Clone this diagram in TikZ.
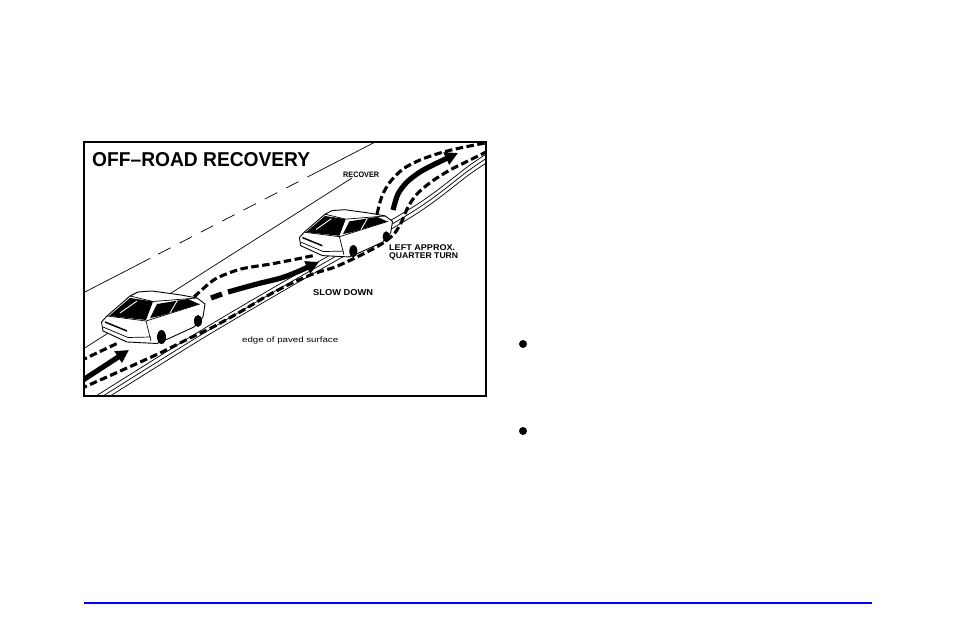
\documentclass[tikz,border=0pt]{standalone}
\usepackage{fontspec}
\usepackage{graphicx}
\setmainfont{Liberation Sans}
\usetikzlibrary{arrows.meta}
\definecolor{rulblue}{RGB}{0,0,255}
\newcommand\mycar{%
  \draw[carbody] (101.5,322) -- (103,331) -- (127,342) -- (157,343.5) -- (170,338) -- (194,327) -- (203,317) -- (205,304) -- (197,298) -- (181,295) -- (152,291) -- (138,292) -- (130,296) -- (107,316) -- cycle;
  \fill (109,316) -- (130,298) -- (153,301.5) -- (146,320) -- cycle;
  \draw[white, line width=0.9pt] (120,313) -- (137,301);
  \draw[carline] (130,296) -- (153,301.5) -- (197,298);
  \draw[carline] (107,316) -- (146,321) -- (200,304);
  \draw[carline] (146,321) -- (151,341);
  \draw[carline] (103,327) -- (128,337.5) -- (151,337);
  \draw[line width=1.5pt] (105,322) -- (127,331);
  \fill (150,318) -- (157,304) -- (188,299) -- (199,304) -- (190,307) -- (160,316) -- cycle;
  \draw[white, line width=0.9pt] (170,313) -- (177,301);
  \fill (161.5,337) ellipse [x radius=4.5pt, y radius=7pt];
  \fill (198,321) ellipse [x radius=4pt, y radius=6pt];
}
\begin{document}
\begin{tikzpicture}[x=1pt,y=-1pt,
  thinline/.style={line width=0.7pt},
  track/.style={line width=3.1pt, dash pattern=on 7.5pt off 3.5pt},
  bigarrow/.style={line width=5.2pt, -{Triangle[length=13pt,width=13pt]}},
  lbl/.style={inner sep=0pt, anchor=base west},
  carbody/.style={fill=white, draw=black, line width=0.9pt, line join=round},
  carline/.style={line width=0.7pt, line join=round},
]
\useasboundingbox (0,0) rectangle (954,636);
\fill[white] (0,0) rectangle (954,636);

\begin{scope}
  \clip (84,142) rectangle (486,396);
  % far lines
  \draw[thinline, dash pattern=on 79pt off 9pt on 14pt off 10pt on 14pt off 10pt on 14pt off 10pt on 14pt off 10pt on 14pt off 10pt on 14pt off 10pt on 14pt off 10pt on 140pt] (80,294.6) -- (380,139.5);
  \draw[thinline] (80,351) -- (352,178);
  % edge of paved surface
  \foreach \d in {0,4.5,9}
    \draw[thinline, shift={(0,\d)}] plot[smooth] coordinates {(80,406) (200,331) (290,278) (413,207) (470,165) (500,145)};
  % tracks
  \draw[track] (80,361) -- (118,343);
  \draw[bigarrow] (80,382) -- (129,350);
  \draw[track] plot[smooth] coordinates {(80,389) (127,368) (160,353) (190,338) (213,327) (240,312) (267,296) (290,284) (313,274) (335,267) (357,257) (380,245) (394,234) (402,221) (408,207) (417,194) (431,182) (450,170) (470,160) (492,149)};
  \draw[track] plot[smooth] coordinates {(194,297) (205,287) (217,278) (241,269) (271,264) (297,259) (316,255)};
  \draw[line width=5.2pt] (211,298) -- (222,294);
  \draw[bigarrow] plot[smooth] coordinates {(228,292) (257,284) (281,278) (297,272) (319,262)};
  \draw[track] plot[smooth] coordinates {(377,214) (382,196) (390,182) (403,169) (420,160) (440,153) (460,148) (490,142)};
  \draw[bigarrow] plot[smooth] coordinates {(393,210) (398,194) (407,182) (420,172) (435,164) (458,153)};
  % cars
  \begin{scope}
    \mycar
  \end{scope}
  \begin{scope}[shift={(208,-52.2)}, scale=0.9]
    \mycar
  \end{scope}
\end{scope}

\draw[line width=1.8pt] (84,142) rectangle (486,396);

\node[lbl] (title) at (92,167) {\resizebox{218pt}{14pt}{\bfseries OFF–ROAD RECOVERY}};
\node[lbl] (recover) at (343,178) {\resizebox{36pt}{5.5pt}{\bfseries RECOVER}};
\node[lbl] (leftturn) at (389,251) {\resizebox{66pt}{5.8pt}{\bfseries LEFT APPROX.}};
\node[lbl] (quarter) at (389,259) {\resizebox{69pt}{5.8pt}{\bfseries QUARTER TURN}};
\node[lbl] (slow) at (313,296) {\resizebox{60pt}{6pt}{\bfseries SLOW DOWN}};
\node[lbl] (edge) at (242,342.5) {\resizebox*{96pt}{7.3pt}{edge of paved surface}};

\fill (523,344) circle[radius=4pt];
\fill (523,431) circle[radius=4pt];

\draw[line width=2pt, rulblue] (84,603) -- (872,603);
\end{tikzpicture}
\end{document}
